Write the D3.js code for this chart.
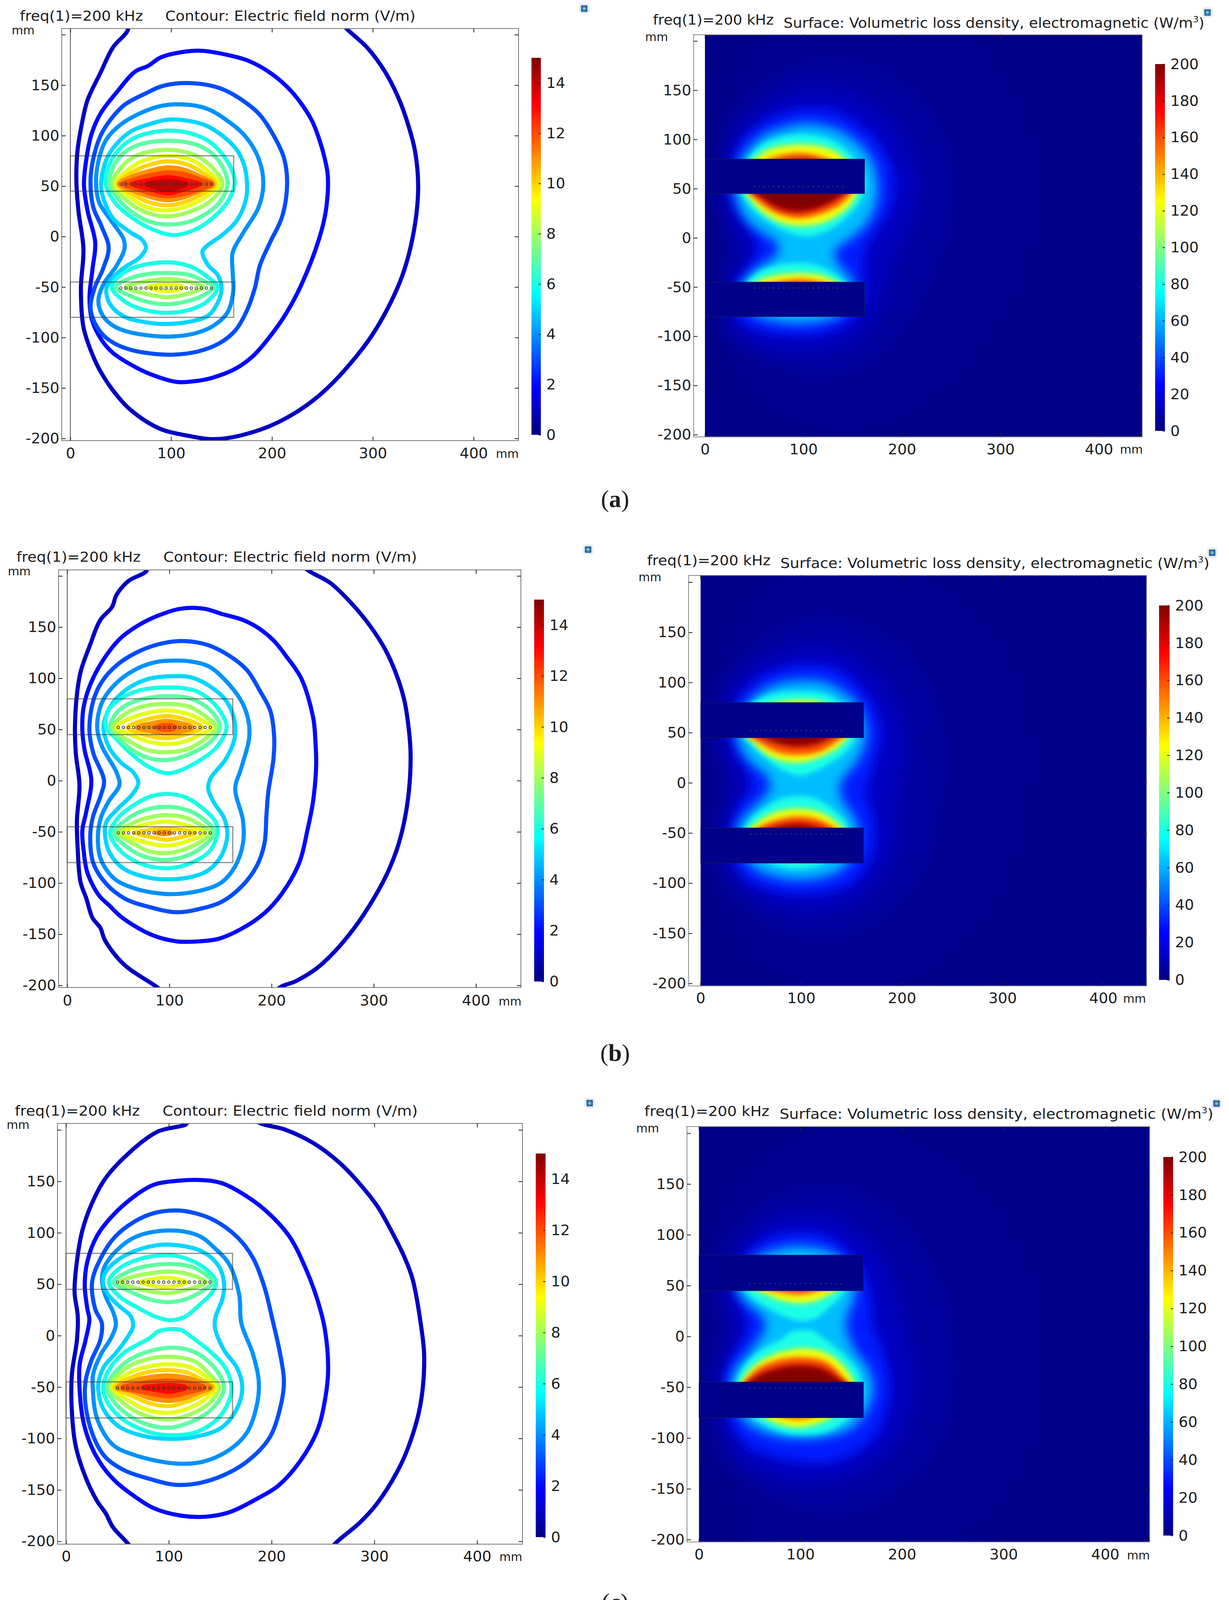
<!DOCTYPE html>
<html><head><meta charset="utf-8">
<script src="https://cdn.jsdelivr.net/npm/d3@7"></script>
<style>
html,body{margin:0;padding:0;background:#fff}
svg{display:block}
text{font-family:"DejaVu Sans",sans-serif;fill:#1c1c1c}
</style></head><body>
<div id="chart"></div>
<script>
// ---- axis tick values ----
const xTicks=[0,100,200,300,400];
const yTicks=[-200,-150,-100,-50,0,50,100,150,200];
const fieldBarTicks=[0,2,4,6,8,10,12,14];
const lossBarTicks=[0,20,40,60,80,100,120,140,160,180,200];
const conductorX=[50,55,60,65,70,75,80,85,90,95,100,105,110,115,120,125,130,135,140];
const coilTop=[45,80];
const coilBottom=[-80,-45];
// loss density read at each field contour on the paired surface plot
const lossAtLevel=[1.5,3,6,13,30,62,80,122,160,195,225,235,240,240,240];

// ---- panel (a) contours, [x mm, y mm] ----
const a1=[[50,222],[57.5,206.5],[42,187],[30,162.5],[17,135],[11,109.5],[7,84],[6,55],[8,26],[13,-12.5],[10.5,-51],[13,-89.6],[20,-112],[28.5,-131],[42,-152],[59.5,-171.5],[88,-190],[115,-197],[142,-200.7],[169,-197],[206,-184],[246.5,-157.7],[289,-112],[310,-80],[329.5,-38],[341,7],[345,48.5],[342,84],[335,111],[325.6,137],[312,163.5],[295,186.6],[273.5,206.5],[260,222]];
const a2=[[131,184],[115,183.4],[90,177.6],[77,169],[64.4,163.5],[46,143],[30,122],[21,101.5],[16,77.4],[13.5,51.7],[17,26],[24.7,-6],[22,-32],[19,-60.7],[21.6,-83],[31,-102.4],[42,-115],[59.4,-126.5],[78.7,-136],[105.7,-144],[125,-143],[140.4,-140],[163.6,-131],[181,-118.5],[198,-99],[213.7,-76.7],[229,-48],[246.5,-3],[253.5,26],[255.4,59.7],[252.3,77.4],[247.3,95],[239,116],[220,143],[200,161],[177,174],[157.8,179.5]];
const a3=[[109.6,152],[90,148.7],[75,142],[53.6,130.4],[40,116],[30,100],[22.8,77.4],[20,55],[22.8,29],[31,10],[38,-11],[32.4,-32],[24,-51],[20,-70],[24,-85],[33,-98],[46,-107],[63,-113],[82,-116],[102,-117],[127,-113.7],[148,-105.6],[163.6,-93],[175,-73.5],[183,-51],[188,-28.6],[198,-6],[210,19.6],[215,51.7],[212,77.4],[200,103],[186.7,122],[165.5,138.4],[150,146.4],[131,151]];
const a4=[[109.6,131],[88,129],[69,122],[50,111],[36,96.7],[28.5,77.4],[25.5,55],[28.5,34],[40,16.4],[53,-3],[53.6,-12.5],[46,-28.6],[32.4,-48],[27.8,-64],[32,-78],[42,-88],[56,-94],[78,-98],[100,-99],[123,-96],[142.4,-88],[156,-75],[161.6,-54],[161,-35],[161,-16],[171.3,3.5],[186.7,29],[191.4,53],[186.7,77.4],[173,100],[154,116],[134.6,127]];
const a5=[[30.4,52],[33,37],[42.6,17.7],[60.7,3.5],[71,-3],[75,-11],[68.5,-21],[53,-31],[41.3,-41.7],[35.8,-51.4],[38.8,-66],[53,-79],[78.8,-85.5],[98,-86.5],[120,-84],[137,-78],[147,-63.6],[150,-50.7],[146,-37.8],[137,-28.8],[131,-15],[137,-8],[150,1],[165.4,16.4],[174.4,38],[175,56.4],[172,72],[165,86],[152,99],[132,111],[100,116],[80.6,112],[61,104.7],[46,92],[36,77]];
const a6u=[[35,52],[38,70],[48,86],[62,97],[80,103],[100,105],[120,102],[138,94],[152,80],[161,64],[163,52],[157,36],[143,20],[124,7],[102,1.5],[81,7.4],[60.7,19],[44,34]];
const a7u=[[39,52],[42,68],[52,82],[68,91],[97,95],[125,91],[142,81],[152,67],[156,52],[148,34],[132,21],[115,14],[97,12],[78,15],[60,25],[47,38]];
const a8u=[[42,52],[50,68],[65,80],[97,86],[125,80],[140,69],[151,52],[140,36],[122,26],[97,20],[75,24],[58,34]];
const a9u=[[45,52],[56,65],[72,75],[97,80],[120,76],[136,65],[147,52],[135,40],[118,31],[97,26],[76,29],[58,40]];
const a10u=[[47,52],[60,63],[78,71],[97,74.5],[117,71],[133,62],[144,52],[132,43],[116,35],[97,31],[78,34],[60,43]];
const a11u=[[48,52],[65,61],[82,66],[97,68.6],[114,66],[128,60],[142,52],[128,45],[113,39],[97,36],[80,39],[63,45]];
const a12u=[[52,52],[68,58],[85,62],[97,63.5],[112,62],[128,57],[140,52],[126,46],[112,42],[97,40],[82,42],[66,47]];
const a13u=[[62,52],[78,56],[97,59],[114,56],[128,52],[114,47],[97,43],[78,47]];
const a14u=[[76,52],[86,54],[97,55],[106,54],[115,52],[106,48],[97,46],[86,48]];
const a6d=[[41,-50],[50,-38],[65,-30],[97,-25.5],[120,-30],[136,-40],[146,-50],[136,-64],[120,-72],[97,-75.5],[75,-73],[55,-65]];
const a7d=[[45,-50],[60,-41],[78,-37],[97,-36],[118,-38],[132,-44],[142,-50],[130,-59],[116,-64],[97,-67],[78,-65],[60,-59]];
const a8d=[[55,-50],[72,-45],[97,-42],[118,-45],[132,-50],[118,-56],[97,-60],[72,-56]];
const a9d=[[77,-50],[86,-48],[97,-47.5],[106,-48],[112,-50],[106,-53],[97,-54],[86,-53]];
const contoursA=[[1,a1],[2,a2],[3,a3],[4,a4],[5,a5],[6,a6u],[6,a6d],[7,a7u],[7,a7d],[8,a8u],[8,a8d],[9,a9u],[9,a9d],[10,a10u],[11,a11u],[12,a12u],[13,a13u],[14,a14u]];

// ---- panel (b) contours ----
const b1=[[65,220],[78,206],[59.8,195],[48.3,181.6],[43.8,169.6],[32.4,157],[22.5,133],[13.3,107],[9.5,84],[7.6,52.5],[8.4,27],[12,-4.4],[9.5,-39],[10.3,-67.7],[13,-99],[18.7,-115],[24.7,-134],[32.4,-143.7],[37,-156],[56,-180],[88.3,-202],[105,-216],[195,-216],[208,-202],[223.4,-196],[246.3,-181.6],[278.6,-147],[309,-99],[322.4,-67.7],[330,-39],[334.6,-7.6],[336,27],[334,52.5],[330,78],[322.4,103],[311,128.5],[295.8,152],[278.6,172.8],[257.7,193],[234.9,206],[220,220]];
const b2=[[111,168],[88.3,161],[70,152],[52,139],[34,116],[22.5,93.7],[16,71.5],[14.8,49],[17,30],[23.6,0.3],[18.7,-30],[14.8,-48.7],[16,-67.7],[19.8,-90],[31,-112],[40.7,-121.5],[54,-134],[82.6,-150.6],[107.3,-157],[128.3,-157],[147.3,-154.7],[170,-145],[193,-129.4],[210,-110.4],[227,-80.4],[235,-48.7],[240.6,-20],[243.6,14.6],[243,36.7],[240.6,62],[229,100],[214,122],[202.5,136.4],[187.3,149],[172,157],[151,163],[134,168]];
const b3=[[109,136.4],[88.3,133],[67.4,125],[48.3,112.7],[34,96.8],[25.5,78],[21.7,49.4],[25.5,27],[36,0.3],[33,-14],[25,-36],[22.5,-55],[25.5,-80.4],[37,-99.4],[56,-115],[78.8,-123],[107.3,-128.5],[132,-124.7],[151,-118.4],[170,-104],[185.4,-83.5],[193,-61.4],[195,-33],[196.8,-10.8],[201.8,21],[202.5,43],[198.7,68.4],[189,87],[175.9,108],[158.7,122],[136,133]];
const b4=[[105.4,117.4],[86.4,115.8],[65.5,108],[46.4,93.7],[34,76.3],[29.3,52.5],[34,33.5],[48.3,8],[51,-4.4],[40.7,-20],[33,-36],[30,-55],[33,-77],[46.4,-96],[67.4,-105.7],[85,-109.5],[105.4,-110.8],[132,-107],[151,-99.4],[164.4,-83.5],[172,-61.4],[172,-39],[164.4,-7.6],[170,11.4],[177.8,40],[177.8,55.7],[172,74.7],[158.7,93.7],[139.7,111],[120.7,116.5]];
const b5=[[100,102],[78,99],[57.9,89],[42.6,73],[35.6,52.6],[41.3,32],[52.8,17.5],[64,8.8],[69.6,-2],[64,-13],[49,-27.8],[38,-41],[37,-52.6],[41.3,-70],[55.3,-86],[80.8,-95],[100,-96.4],[121.6,-94],[138,-87.6],[151,-73],[156.7,-52.6],[153.5,-36.5],[143,-20.4],[138,-7.3],[140.7,3],[154.7,20.4],[163.7,41],[163.7,58.4],[156,77.4],[142,90.6],[121.6,100.8]];
const b6u=[[38,52],[40,68],[52,80],[70,88],[97,91],[125,88],[143,76],[153,62],[156,52],[148,35],[130,20],[100,7.3],[80.8,13],[63,26],[47.7,41]];
const b7u=[[42,52],[48,66],[60,75],[80,81],[97,82.5],[118,81],[135,73],[145,63],[149.6,52],[140,38],[122,27],[100,20.4],[80,22],[62,31],[50,42]];
const b8u=[[44.5,52],[55,64],[72,72],[97,75],[120,72],[135,63],[145.8,52],[135,41],[118,31],[97,27.8],[78,30],[60,39]];
const b9u=[[47.7,52],[62,61],[80,66.5],[97,68.6],[115,66],[130,60],[141,52],[128,44],[114,38],[97,35.8],[80,38],[62,45]];
const b10u=[[59,52],[75,59],[97,63],[115,60],[132,52],[115,45],[97,41.6],[75,45]];
const b11u=[[68,52],[82,56],[97,58.4],[112,56],[123,52],[112,48],[97,46],[82,48]];
const b12u=[[87,52],[92,54],[97,54.5],[102,54],[106,52],[102,50],[97,49.5],[92,50]];
const b6d=[[42,-51],[50,-36],[65,-24],[80,-16],[97,-13],[115,-16],[130,-25],[145,-40],[147,-51],[140,-68],[122,-80],[100,-85.5],[78,-83],[60,-75],[48,-64]];
const b7d=[[46,-51],[58,-38],[75,-29],[97,-25.6],[118,-29],[135,-39],[144,-51],[132,-65],[115,-74],[97,-77.4],[78,-75],[60,-66]];
const b8d=[[50,-51],[65,-41],[80,-36],[97,-33.6],[115,-36],[130,-43],[140,-51],[128,-61],[112,-68],[97,-70.8],[80,-69],[64,-61]];
const b9d=[[54,-51],[72,-44],[97,-40],[118,-44],[134,-51],[118,-59],[97,-63.5],[72,-59]];
const b10d=[[66,-51],[82,-48],[97,-46.7],[112,-48],[125,-51],[112,-55],[97,-57.7],[82,-55]];
const b11d=[[87,-51],[95,-49.8],[102,-51],[95,-52.5]];
const contoursB=[[1,b1],[2,b2],[3,b3],[4,b4],[5,b5],[6,b6u],[6,b6d],[7,b7u],[7,b7d],[8,b8u],[8,b8d],[9,b9u],[9,b9d],[10,b10u],[10,b10d],[11,b11u],[11,b11d],[12,b12u]];

// ---- panel (c) contours ----
const c1=[[100,216],[117.4,206.3],[89,198.3],[59.8,176.3],[37.9,152.3],[24.6,127.3],[15.9,102.3],[10.6,72.3],[8.3,42.3],[11.4,19],[10.6,-4.3],[5.7,-37.7],[5.7,-74.3],[9.5,-107.7],[19,-137.7],[30.3,-161],[38.6,-172.7],[45.5,-186],[60.6,-202.7],[72,-218],[250,-218],[261.4,-202.7],[286,-181.7],[303,-162.7],[322,-132.7],[333.3,-107.7],[344.7,-67.7],[348.5,-21],[345.5,9],[337,55.7],[328.8,77.3],[316.3,102.3],[303,125.7],[286,147.3],[267,167.3],[240.5,187.3],[212,200.7],[189.4,206.3],[175,216]];
const c2=[[109.8,150.7],[87,147.3],[73.9,140.7],[49.2,120.7],[30.3,97.3],[20.8,72.3],[18.2,49],[20.8,25.7],[22.7,15.7],[19,-4.3],[13.3,-27.7],[13.3,-54.3],[17,-84.3],[24.6,-107.7],[36,-127.7],[49.2,-142.7],[66.3,-156],[85.2,-167.7],[111.7,-175],[136.4,-176],[159,-171.7],[187.5,-157.7],[206.4,-146],[227.3,-122.7],[244.3,-92.7],[251.9,-62.7],[255,-34.3],[251.9,5.7],[244.3,35.7],[233,65.7],[217.8,95.7],[198.9,117.3],[178,134],[151.5,148.3],[130.7,151.3]];
const c3=[[106,121.7],[85.2,119],[66.3,110.7],[47.3,95.7],[34,75.7],[25.4,52.3],[28.4,25.7],[34.8,12.3],[33.3,-4.3],[24.6,-24.3],[19,-44.3],[19,-67.7],[26.5,-97.7],[37.9,-117.7],[56.8,-131],[81.4,-139.3],[106,-145],[132.6,-142.7],[162.9,-131],[183.7,-116],[198.9,-97.7],[209,-67.7],[212,-44.3],[208.3,-17.7],[200.8,15.7],[193,47.3],[181.8,75.7],[166.7,95.7],[144,112.3],[123,119.7]];
const c4=[[100.5,102.3],[68.8,96.5],[49.8,83.4],[37,66],[35,53],[38.4,38.4],[46,22.4],[48.5,10.8],[44,-2],[34.6,-17],[26.5,-37],[26,-50.3],[30.3,-81],[45.5,-106],[66.3,-116],[106,-124.3],[132.6,-122.7],[159,-111],[176,-94.3],[185.6,-67.7],[187.5,-44.3],[181.8,-17.7],[170.5,12.3],[168.6,39],[159,69],[145.8,84],[128.8,97.3]];
const c5=[[100.5,88.5],[75,85],[52,74.7],[38.4,61.6],[35.9,51.5],[41,39.8],[52.3,28.2],[62.5,19.5],[65.3,9.3],[61.2,0.6],[48.5,-16.9],[37,-30],[32,-43],[31.4,-53],[35.9,-70.6],[51,-88],[75,-97.5],[100.5,-100.4],[125.9,-98.3],[151.2,-89.5],[166.4,-70.6],[171.5,-50.3],[166.4,-31.4],[153.7,-14],[144.9,7.8],[145.5,18],[152.5,37],[153.7,51.5],[148.7,67.4],[132,82]];
const c6u=[[100.5,78.3],[70,74],[50,64],[41.6,52],[52,38],[70,27],[88,18],[101.8,15],[115,18],[130,30],[142,42],[146,52],[138,63],[122,73]];
const c7u=[[46,52],[60,62],[78,67.5],[100,69.6],[122,67],[135,60],[143,52],[132,43],[115,35],[100,32.6],[82,35],[62,43]];
const c8u=[[52,52],[68,58],[85,61],[100,62.4],[118,60],[136,52],[118,45],[100,41.3],[82,43],[65,47]];
const c9u=[[72.6,52],[85,55],[95,56.3],[108,55],[117.6,52],[108,48.5],[95,47],[85,48.5]];
const c6d=[[101.8,6.4],[90,4.2],[81.5,-2.3],[56,-17],[42,-33],[36,-50.3],[41,-66],[56,-82],[81.5,-94],[103,-96.8],[126,-94],[147.4,-81],[158,-65],[161,-50.3],[156,-33],[142,-17],[119.5,0.6],[113,5]];
const c7d=[[39.7,-50.3],[50,-33],[68,-20],[100,-11.8],[125,-16],[145,-32],[153.7,-50.3],[145,-68],[128,-81],[100,-89.5],[75,-85],[55,-73],[45,-62]];
const c8d=[[43,-50.3],[55,-34],[75,-24],[100,-20.5],[125,-25],[140,-38],[149,-50.3],[140,-65],[122,-76],[100,-81.5],[75,-77],[55,-65]];
const c9d=[[45,-50.3],[60,-37],[80,-30],[100,-27.8],[122,-31],[136,-40],[146,-50.3],[135,-62],[118,-71],[100,-75],[78,-72],[58,-61]];
const c10d=[[47,-50.3],[65,-40],[82,-35],[100,-33.6],[118,-36],[132,-43],[143.6,-50.3],[130,-59],[115,-65],[100,-68.5],[82,-66],[63,-58]];
const c11d=[[50,-50.3],[68,-43],[85,-39.7],[100,-38.7],[118,-41],[130,-45],[141.7,-50.3],[128,-56],[115,-61],[100,-63.4],[82,-61],[66,-55]];
const c12d=[[55,-50.3],[75,-46],[100,-43.7],[120,-46],[134.7,-50.3],[120,-55],[100,-59],[75,-55]];
const c13d=[[75,-50.3],[88,-48.7],[100,-48],[110,-48.7],[117,-50.3],[110,-53],[100,-54.6],[88,-53]];
const contoursC=[[1,c1],[2,c2],[3,c3],[4,c4],[5,c5],[6,c6u],[6,c6d],[7,c7u],[7,c7d],[8,c8u],[8,c8d],[9,c9u],[9,c9d],[10,c10d],[11,c11d],[12,c12d],[13,c13d]];

// ---- page layout (pixels) ----
const W=3145,H=4166;
const rows=[
 {cap:"a",capY:1298,contours:contoursA,
  L:{fx0:158,fx1:1327,fy0:73,fy1:1128,x0:180,x400:1212,y150:218,ym200:1122.5,bx0:1360,bx1:1384,by0:148,by1:1113,
     freq:[51,53,315],title:[423,53,640],mmY:[30,88],mmX:[1269,1172],pad:18,icon:[1495,22]},
  R:{fx0:1775,fx1:2923,fy0:89,fy1:1118.5,x0:1804,x400:2812,y150:231,ym200:1112.7,bx0:2956,bx1:2981,by0:164,by1:1103,
     freq:[1671,63,309],title:[2005,71,1077],mmY:[1651,105],mmX:[2866,1161],pad:18,icon:[3090,32]}},
 {cap:"b",capY:2716,contours:contoursB,
  L:{fx0:150,fx1:1333,fy0:1459,fy1:2528,x0:172,x400:1218,y150:1605.5,ym200:2522.6,bx0:1367,bx1:1392,by0:1535,by1:2512.6,
     freq:[42,1438,318],title:[418,1438,649],mmY:[20,1473],mmX:[1276,2574],pad:19,icon:[1505,1407]},
  R:{fx0:1762,fx1:2934,fy0:1473,fy1:2524,x0:1792.6,x400:2823,y150:1618.8,ym200:2517.6,bx0:2966,bx1:2993,by0:1550,by1:2508.5,
     freq:[1656,1447,316],title:[1997,1454,1098],mmY:[1634,1488],mmX:[2874,2567],pad:17,icon:[3102,1415]}},
 {cap:"c",capY:4122,contours:contoursC,
  L:{fx0:147,fx1:1337,fy0:2876,fy1:3953,x0:169,x400:1221,y150:3024.3,ym200:3945.8,bx0:1371,bx1:1396,by0:2953,by1:3935,
     freq:[38,2856,320],title:[416,2856,653],mmY:[17,2890],mmX:[1278,3996],pad:17,icon:[1509,2824]},
  R:{fx0:1758,fx1:2942,fy0:2884,fy1:3947.5,x0:1788.5,x400:2828,y150:3031,ym200:3941.4,bx0:2977,bx1:3002,by0:2962,by1:3931,
     freq:[1649,2857,320],title:[1995,2864,1110],mmY:[1628,2899],mmX:[2884,3992],pad:18,icon:[3113,2825]}}
];

// ---- colour ----
const jetStops=[0,1/8,3/8,5/8,7/8,1];
const jetHex=["#000080","#0000ff","#00ffff","#ffff00","#ff0000","#800000"];
const fieldColor=d3.scaleLinear().domain(jetStops.map(d=>d*15)).range(jetHex).clamp(true);
const lossColor=d3.scaleLinear().domain(jetStops.map(d=>d*200)).range(jetHex).clamp(true);

const svg=d3.select("#chart").append("svg").attr("width",W).attr("height",H).attr("viewBox",[0,0,W,H]);
const defs=svg.append("defs");
const grad=defs.append("linearGradient").attr("id","jet").attr("x1",0).attr("x2",0).attr("y1",1).attr("y2",0);
jetStops.forEach((s,i)=>grad.append("stop").attr("offset",s).attr("stop-color",jetHex[i]));
[["blurL",24],["blurM",14],["blurS",7]].forEach(([id,s])=>{
  defs.append("filter").attr("id",id).attr("x","-30%").attr("y","-30%").attr("width","160%").attr("height","160%")
    .append("feGaussianBlur").attr("stdDeviation",s);
});
const iconGrad=defs.append("radialGradient").attr("id","iconG");
[[0,"#f4e06a"],[.45,"#3fa0c8"],[1,"#1c4fa8"]].forEach(([o,c])=>iconGrad.append("stop").attr("offset",o).attr("stop-color",c));
defs.append("filter").attr("id","iconB").append("feGaussianBlur").attr("stdDeviation",2);

const closed=d3.line().curve(d3.curveCatmullRomClosed.alpha(0.5));
let clipN=0;

function panel(p,kind,row){
  const g=svg.append("g");
  const x=d3.scaleLinear().domain([0,400]).range([p.x0,p.x400]);
  const y=d3.scaleLinear().domain([-200,150]).range([p.ym200,p.y150]);
  const id="clip"+(clipN++);
  const left=kind==="heat"?x(0):p.fx0;
  defs.append("clipPath").attr("id",id).append("rect").attr("x",left).attr("y",p.fy0).attr("width",p.fx1-left).attr("height",p.fy1-p.fy0);
  const path=closed.x(d=>x(d[0])).y(d=>y(d[1]));
  const plot=g.append("g").attr("clip-path",`url(#${id})`);

  if(kind==="heat"){
    plot.append("rect").attr("x",left).attr("y",p.fy0).attr("width",p.fx1-left).attr("height",p.fy1-p.fy0).attr("fill",lossColor(lossAtLevel[0]));
    plot.selectAll("path.h").data(row.contours).join("path").attr("class","h")
      .attr("d",d=>path(d[1])).attr("fill",d=>lossColor(lossAtLevel[d[0]]))
      .attr("filter",d=>d[0]<=3?"url(#blurL)":d[0]<=5?"url(#blurM)":"url(#blurS)");
    [coilTop,coilBottom].forEach(c=>{
      plot.append("rect").attr("x",x(0)).attr("width",x(162)-x(0)).attr("y",y(c[1])).attr("height",y(c[0])-y(c[1]))
        .attr("fill","#00008a").attr("stroke","#111a55").attr("stroke-width",1.5);
    });
    [52,-51].forEach(cy=>plot.selectAll(null).data(conductorX).join("circle")
      .attr("cx",d=>x(d)).attr("cy",y(cy)).attr("r",1.8).attr("fill","#3a3a50"));
  } else {
    plot.selectAll("path.c").data(row.contours).join("path").attr("class","c")
      .attr("d",d=>path(d[1])).attr("fill",d=>d[0]>=11?fieldColor(d[0]):"none").attr("stroke",d=>fieldColor(d[0]))
      .attr("stroke-width",10.5).attr("stroke-linejoin","round");
    [coilTop,coilBottom].forEach(c=>{
      plot.append("rect").attr("x",x(0)).attr("width",x(162)-x(0)).attr("y",y(c[1])).attr("height",y(c[0])-y(c[1]))
        .attr("fill","none").attr("stroke","#333").attr("stroke-opacity",.55).attr("stroke-width",3);
    });
    [52,-51].forEach(cy=>plot.selectAll(null).data(conductorX).join("circle")
      .attr("cx",d=>x(d)).attr("cy",y(cy)).attr("r",3.2).attr("fill","none").attr("stroke","#333").attr("stroke-width",1.6));
    plot.append("line").attr("x1",x(0)).attr("x2",x(0)).attr("y1",p.fy0).attr("y2",p.fy1).attr("stroke","#555").attr("stroke-width",2);
  }

  // frame
  g.append("rect").attr("x",p.fx0).attr("y",p.fy0).attr("width",p.fx1-p.fx0).attr("height",p.fy1-p.fy0)
    .attr("fill","none").attr("stroke",kind==="heat"?"#8a8a8a":"#777").attr("stroke-width",2);

  // axes
  const style=sel=>{sel.select(".domain").remove();
    sel.selectAll("line").attr("stroke","#222").attr("stroke-width",2);
    sel.selectAll("text").attr("font-size",38).attr("fill","#1c1c1c").attr("font-family",'"DejaVu Sans",sans-serif');};
  g.append("g").attr("transform",`translate(${p.fx0},0)`)
    .call(d3.axisLeft(y).tickValues(yTicks).tickSize(-10).tickPadding(6).tickFormat(d=>d===200?"":String(d))).call(style);
  g.append("g").attr("transform",`translate(0,${p.fy1})`)
    .call(d3.axisBottom(x).tickValues(xTicks).tickSize(-10).tickPadding(p.pad).tickFormat(String)).call(style);
  g.append("g").attr("transform",`translate(${p.fx1},0)`)
    .call(d3.axisRight(y).tickValues(yTicks).tickSize(-10).tickFormat("")).call(style);
  g.append("g").attr("transform",`translate(0,${p.fy0})`)
    .call(d3.axisTop(x).tickValues(xTicks).tickSize(-10).tickFormat("")).call(style);

  // colour bar
  const maxV=kind==="heat"?200:15;
  const by=d3.scaleLinear().domain([0,maxV]).range([p.by1,p.by0]);
  g.append("rect").attr("x",p.bx0).attr("y",p.by0).attr("width",p.bx1-p.bx0).attr("height",p.by1-p.by0).attr("fill","url(#jet)");
  g.append("g").attr("transform",`translate(${p.bx1},0)`)
    .call(d3.axisRight(by).tickValues(kind==="heat"?lossBarTicks:fieldBarTicks).tickSize(-6).tickPadding(14).tickFormat(String)).call(style);

  // titles
  const t=(s,pos,size)=>g.append("text").attr("x",pos[0]).attr("y",pos[1]).attr("font-size",size).text(s);
  t("freq(1)=200 kHz",p.freq,36).attr("textLength",p.freq[2]).attr("lengthAdjust","spacingAndGlyphs");
  if(kind==="heat"){
    const s=g.append("text").attr("x",p.title[0]).attr("y",p.title[1]).attr("font-size",36)
      .attr("textLength",p.title[2]).attr("lengthAdjust","spacingAndGlyphs");
    s.append("tspan").text("Surface: Volumetric loss density, electromagnetic (W/m");
    s.append("tspan").attr("font-size",22).attr("dy",-14).text("3");
    s.append("tspan").attr("dy",14).text(")");
  } else {
    t("Contour: Electric field norm (V/m)",p.title,36).attr("textLength",p.title[2]).attr("lengthAdjust","spacingAndGlyphs");
  }
  t("mm",p.mmY,30); t("mm",p.mmX,30);

  // corner icon
  g.append("rect").attr("x",p.icon[0]-12).attr("y",p.icon[1]-12).attr("width",24).attr("height",24).attr("rx",5).attr("fill","#d6dce2").attr("filter","url(#iconB)");
  g.append("rect").attr("x",p.icon[0]-8).attr("y",p.icon[1]-8).attr("width",16).attr("height",16).attr("rx",2).attr("fill","url(#iconG)");
}

rows.forEach(r=>{
  panel(r.L,"contour",r);
  panel(r.R,"heat",r);
  const c=svg.append("text").attr("x",1574).attr("y",r.capY).attr("text-anchor","middle")
    .attr("font-size",62).style("font-family",'"Liberation Serif",serif').attr("fill","#000");
  c.append("tspan").text("(");
  c.append("tspan").attr("font-weight","bold").text(r.cap);
  c.append("tspan").text(")");
});
</script>
</body></html>
